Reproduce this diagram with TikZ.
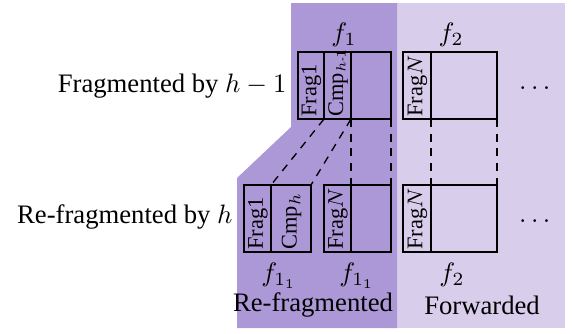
\documentclass[tikz,border=0pt]{standalone}
\usepackage{amsmath}
\usepackage{fontspec}
\setmainfont{Liberation Serif}
\definecolor{darkp}{RGB}{172,152,214}
\definecolor{lightp}{RGB}{216,206,236}
\begin{document}
\begin{tikzpicture}[x=0.375pt,y=-0.375pt,
  boxline/.style={draw, line width=0.5pt},
  dashline/.style={line width=0.5pt, dash pattern=on 3pt off 2.5pt},
  vlab/.style={rotate=90, font=\fontsize{8.4}{10}\selectfont, inner sep=0pt, anchor=west},
  lab/.style={font=\normalsize, inner sep=0pt}]
\useasboundingbox (0,0) rectangle (573,333);
% backgrounds
\fill[lightp] (397,3) rectangle (565,328);
\fill[darkp] (291,3) -- (397,3) -- (397,328) -- (237,328) -- (237,178) -- (291,127) -- cycle;
% top f1 box
\draw[boxline] (298,52) rectangle (391,119);
\draw[boxline] (324,52) -- (324,119);
\draw[boxline] (351,52) -- (351,119);
\coordinate (ta) at (324,119);
\coordinate (tb) at (351,119);
\coordinate (tc) at (391,119);
\node[vlab] (tfrag1) at (311.5,117) {Frag1};
\node[vlab] (tcmp) at (338,117) {Cmp$_{\scriptscriptstyle h\text{-}1}$};
% top f2 box
\draw[boxline] (403,52) rectangle (497,119);
\draw[boxline] (431,52) -- (431,119);
\coordinate (td) at (431,119);
\coordinate (te) at (497,119);
\node[vlab] (tfragN) at (417.5,117) {Frag$N$};
% bottom box a
\draw[boxline] (244,185) rectangle (311,252);
\draw[boxline] (271,185) -- (271,252);
\coordinate (ba) at (271,185);
\coordinate (bb) at (311,185);
\node[vlab] (bfrag1) at (258,250) {Frag1};
\node[vlab] (bcmp) at (291.5,250) {Cmp$_h$};
% bottom box b
\draw[boxline] (324,185) rectangle (391,252);
\draw[boxline] (351,185) -- (351,252);
\coordinate (bc) at (351,185);
\coordinate (bd) at (391,185);
\node[vlab] (bfragN) at (338,250) {Frag$N$};
% bottom f2 box
\draw[boxline] (403,185) rectangle (497,252);
\draw[boxline] (431,185) -- (431,252);
\coordinate (be) at (431,185);
\coordinate (bf) at (497,185);
\node[vlab] (bfragN2) at (417.5,250) {Frag$N$};
% dashed connectors
\draw[dashline] (ta) -- (ba);
\draw[dashline] (tb) -- (bb);
\draw[dashline] (tb) -- (bc);
\draw[dashline] (tc) -- (bd);
\draw[dashline] (td) -- (be);
\draw[dashline] (te) -- (bf);
% labels
\node[lab] (f1) at (344,35) {$f_1$};
\node[lab] (f2) at (451,35) {$f_2$};
\node[lab] (f11a) at (279,276) {$f_{1_1}$};
\node[lab] (f11b) at (357,276) {$f_{1_1}$};
\node[lab] (f2b) at (452,275) {$f_2$};
\node[lab] (refr) at (313,305) {Re-fragmented};
\node[lab] (fwd) at (482,305) {Forwarded};
\node[lab, anchor=east] (row1) at (287,86) {Fragmented by $h-1$};
\node[lab, anchor=east] (row2) at (233,217) {Re-fragmented by $h$};
\node[lab] (dots1) at (537,88) {$\dots$};
\node[lab] (dots2) at (537,221) {$\dots$};
\end{tikzpicture}
\end{document}
